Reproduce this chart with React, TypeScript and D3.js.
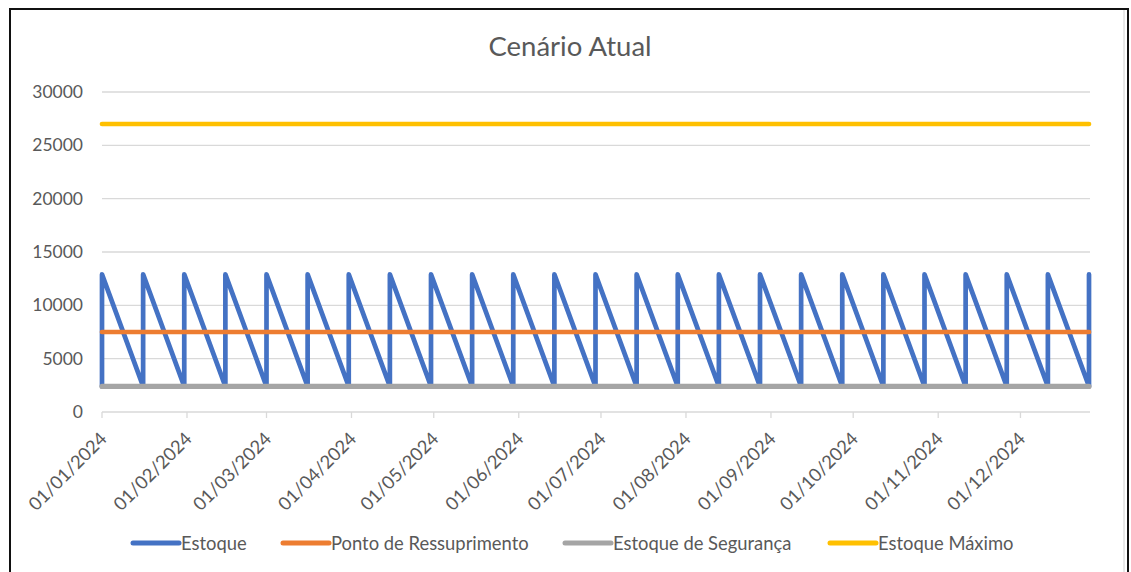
import React from "react";
import * as d3 from "d3";

// ---- data ----
const replenishmentDates = [
  "2024-01-01", "2024-01-16", "2024-01-31", "2024-02-15", "2024-03-01",
  "2024-03-16", "2024-03-31", "2024-04-15", "2024-04-30", "2024-05-15",
  "2024-05-30", "2024-06-14", "2024-06-29", "2024-07-14", "2024-07-29",
  "2024-08-13", "2024-08-28", "2024-09-12", "2024-09-27", "2024-10-12",
  "2024-10-27", "2024-11-11", "2024-11-26", "2024-12-11", "2024-12-26",
];
const estoquePeak = 12900;
const estoqueTrough = 2400;
const pontoRessuprimento = 7500;
const estoqueSeguranca = 2400;
const estoqueMaximo = 27000;
const yTicks = [0, 5000, 10000, 15000, 20000, 25000, 30000];
const monthTicks = [
  "2024-01-01", "2024-02-01", "2024-03-01", "2024-04-01", "2024-05-01", "2024-06-01",
  "2024-07-01", "2024-08-01", "2024-09-01", "2024-10-01", "2024-11-01", "2024-12-01",
];
const seriesNames = ["Estoque", "Ponto de Ressuprimento", "Estoque de Segurança", "Estoque Máximo"];
const seriesColors = ["#4472C4", "#ED7D31", "#A5A5A5", "#FFC000"];

const parse = d3.utcParse("%Y-%m-%d");
const fmt = d3.utcFormat("%d/%m/%Y");

export default function App() {
  const W = 1131, H = 572;
  const font = "Lato, 'Open Sans', sans-serif";
  const dates = replenishmentDates.map((s) => parse(s)!);
  const x = d3.scaleUtc().domain([dates[0], dates[dates.length - 1]]).range([102, 1089]);
  const y = d3.scaleLinear().domain([0, 30000]).range([412, 92]);

  const estoquePts: [Date, number][] = [];
  dates.forEach((d) => {
    estoquePts.push([d, estoqueTrough]);
    estoquePts.push([d, estoquePeak]);
  });
  const line = d3.line<[Date, number]>().x((d) => x(d[0])).y((d) => y(d[1]));
  const flat = (v: number): [Date, number][] => [[dates[0], v], [dates[dates.length - 1], v]];

  const series: [Date, number][][] = [
    estoquePts,
    flat(pontoRessuprimento),
    flat(estoqueSeguranca),
    flat(estoqueMaximo),
  ];
  const widths = [4.7, 4.7, 5.2, 4.7];
  const legendX = [133, 283, 565, 830];

  return (
    <svg width={W} height={H} style={{ position: "absolute", left: 0, top: 0, background: "#fff" }} fontFamily={font}>
      <rect x={0} y={0} width={W} height={H} fill="#fff" />
      <rect x={10} y={9} width={1118} height={600} fill="none" stroke="#111" strokeWidth={2} />
      <line x1={1124} x2={1124} y1={10} y2={572} stroke="#d0d0d0" strokeWidth={1} />
      <text x={570} y={56} textAnchor="middle" fontSize={27.5} fill="#595959">Cenário Atual</text>

      {yTicks.map((t) => (
        <g key={t}>
          <line x1={102} x2={1090} y1={y(t)} y2={y(t)} stroke="#d9d9d9" strokeWidth={1.3} />
          <text x={83} y={y(t) + 6} textAnchor="end" fontSize={17.5} fill="#595959">{t}</text>
        </g>
      ))}
      {monthTicks.map((s) => {
        const d = parse(s)!;
        const px = x(d);
        return (
          <g key={s}>
            <line x1={px} x2={px} y1={412} y2={418} stroke="#d9d9d9" strokeWidth={1.3} />
            <text transform={`translate(${px + 6},${440}) rotate(-45)`} textAnchor="end" fontSize={18.3} fill="#595959">
              {fmt(d)}
            </text>
          </g>
        );
      })}

      {series.map((pts, i) => (
        <path key={i} d={line(pts)!} fill="none" stroke={seriesColors[i]} strokeWidth={widths[i]}
          strokeLinejoin="round" strokeLinecap="round" />
      ))}

      {seriesNames.map((n, i) => (
        <g key={n}>
          <line x1={legendX[i]} x2={legendX[i] + 46} y1={543} y2={543} stroke={seriesColors[i]} strokeWidth={5} strokeLinecap="round" />
          <text x={legendX[i] + 48} y={549.5} fontSize={18.4} fill="#595959">{n}</text>
        </g>
      ))}
    </svg>
  );
}
